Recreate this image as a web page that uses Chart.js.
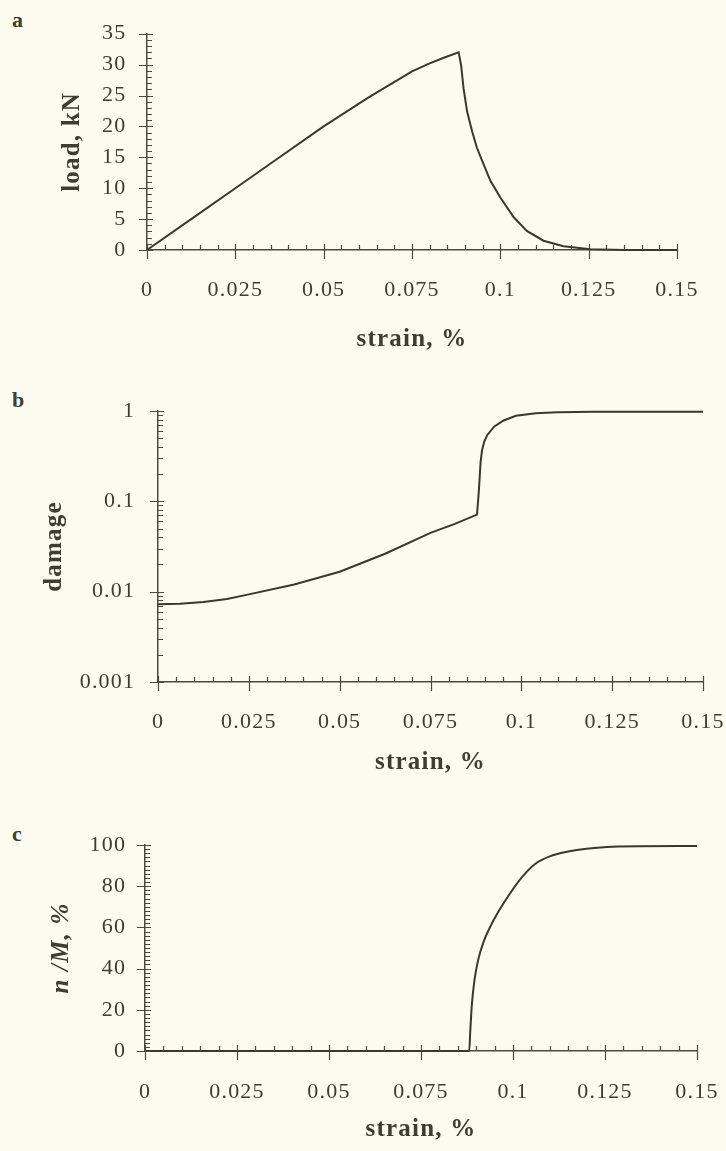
<!DOCTYPE html>
<html lang="en">
<head>
<meta charset="UTF-8">
<title>Load, damage and n/M versus strain</title>
<script src="https://cdn.jsdelivr.net/npm/chart.js"></script>
<style>
    html, body { margin: 0; padding: 0; }
    body {
        width: 726px;
        height: 1151px;
        overflow: hidden;
        position: relative;
        background: #fbfbf0;
        font-family: "Liberation Serif", "DejaVu Serif", serif;
        color: #3d3d32;
    }
    canvas { position: absolute; left: 0; }
    .panel-letter {
        position: absolute;
        left: 12px;
        font-weight: bold;
        font-size: 22px;
        line-height: 1;
    }
</style>
</head>
<body>
<div class="panel-letter" style="top: 9px">a</div>
<div class="panel-letter" style="top: 389px">b</div>
<div class="panel-letter" style="top: 823px">c</div>

<canvas id="chart-a" width="760" height="370" style="top: 0"></canvas>
<canvas id="chart-b" width="760" height="410" style="top: 375px"></canvas>
<canvas id="chart-c" width="760" height="351" style="top: 800px"></canvas>

<script>
    // shared x axis (strain, %)
    const xMajor = [0, 0.025, 0.05, 0.075, 0.1, 0.125, 0.15];
    const xLabels = ['0', '0.025', '0.05', '0.075', '0.1', '0.125', '0.15'];

    // panel a: load, kN
    const strainA = [0, 0.0125, 0.025, 0.0375, 0.05, 0.0625, 0.075, 0.08, 0.084, 0.0882,
                     0.0889, 0.0896, 0.0906, 0.092, 0.0934, 0.0953, 0.0972, 0.1, 0.1038,
                     0.1075, 0.1122, 0.1179, 0.1255, 0.135, 0.15];
    const loadA = [0, 5.0, 10.0, 15.0, 20.0, 24.6, 28.9, 30.2, 31.1, 32.0,
                   29.9, 26.1, 22.4, 19.2, 16.5, 13.8, 11.2, 8.5, 5.3,
                   3.1, 1.5, 0.6, 0.13, 0, 0];
    const yMajorA = [0, 5, 10, 15, 20, 25, 30, 35];
    const yLabelsA = ['0', '5', '10', '15', '20', '25', '30', '35'];

    // panel b: damage (log axis)
    const strainB = [0, 0.006, 0.0125, 0.019, 0.025, 0.0375, 0.05, 0.0625, 0.075, 0.0817, 0.0878,
                     0.0883, 0.0888, 0.0892, 0.0898, 0.0906, 0.0925, 0.095, 0.0985, 0.104,
                     0.11, 0.12, 0.15];
    const damageB = [0.00724, 0.00733, 0.00767, 0.0083, 0.00933, 0.012, 0.0166, 0.0263, 0.0447, 0.0562, 0.0714,
                     0.129, 0.277, 0.37, 0.46, 0.54, 0.67, 0.78, 0.885, 0.945,
                     0.968, 0.978, 0.98];
    const yMajorB = [0.001, 0.01, 0.1, 1];
    const yLabelsB = ['0.001', '0.01', '0.1', '1'];

    // panel c: n/M, %
    const strainC = [0, 0.0881, 0.0884, 0.0888, 0.0895, 0.0905, 0.092, 0.094, 0.0965, 0.099,
                     0.1025, 0.106, 0.11, 0.115, 0.12, 0.127, 0.15];
    const ratioC = [0, 0, 10, 22, 34, 44, 53, 61, 69, 76,
                    84.5, 90.8, 94.5, 96.8, 98.2, 99.2, 99.5];
    const yMajorC = [0, 20, 40, 60, 80, 100];
    const yLabelsC = ['0', '20', '40', '60', '80', '100'];

    const TEXT = '#3d3d32';
    const AXIS = '#4a4a3e';
    const LINE = '#38382e';
    const FAMILY = '"Liberation Serif", "DejaVu Serif", serif';
    const tickFont = { family: FAMILY, size: 22 };

    // major ticks plus evenly spaced minor ones between them
    function linearTicks(majors, parts) {
        const out = [];
        majors.forEach((m, i) => {
            out.push({ value: m, labelIndex: i });
            if (i < majors.length - 1) {
                for (let k = 1; k < parts; k++) out.push({ value: m + (majors[i + 1] - m) * k / parts });
            }
        });
        return out;
    }

    // decades plus 2..9 minor ticks
    function logTicks(majors) {
        const out = [];
        majors.forEach((m, i) => {
            out.push({ value: m, labelIndex: i });
            if (i < majors.length - 1) {
                for (let k = 2; k < 10; k++) out.push({ value: m * k });
            }
        });
        return out;
    }

    function labelFrom(labels) {
        return (value, index, ticks) => ticks[index].labelIndex !== undefined ? labels[ticks[index].labelIndex] : '';
    }

    // ticks that cross the axis (major) or sit inside it (minor)
    const tickMarks = {
        id: 'tickMarks',
        afterDraw(chart) {
            const { ctx, chartArea, scales: { x, y } } = chart;
            ctx.save();
            ctx.strokeStyle = AXIS;
            ctx.lineWidth = 1.2;
            ctx.beginPath();
            x.ticks.forEach(t => {
                const px = Math.round(x.getPixelForValue(t.value)) + 0.5;
                const major = t.labelIndex !== undefined;
                ctx.moveTo(px, chartArea.bottom - (major ? 6 : 5));
                ctx.lineTo(px, chartArea.bottom + (major ? 9 : 0));
            });
            y.ticks.forEach(t => {
                const py = Math.round(y.getPixelForValue(t.value)) + 0.5;
                const major = t.labelIndex !== undefined;
                ctx.moveTo(chartArea.left - (major ? 8 : 0), py);
                ctx.lineTo(chartArea.left + (major ? 6 : 5), py);
            });
            ctx.stroke();
            ctx.restore();
        }
    };

    // the scanned lettering is set a little wide
    const wideText = {
        id: 'wideText',
        beforeUpdate(chart) { chart.ctx.letterSpacing = '1.2px'; },
        beforeDraw(chart) { chart.ctx.letterSpacing = '1.2px'; }
    };

    function buildPanel(id, p) {
        const points = p.xs.map((v, i) => ({ x: v, y: p.ys[i] }));
        const canvas = document.getElementById(id);
        return new Chart(canvas, {
            type: 'line',
            data: {
                datasets: [{
                    data: points,
                    borderColor: LINE,
                    borderWidth: 2,
                    pointRadius: 0,
                    tension: 0,
                    cubicInterpolationMode: p.smooth ? 'monotone' : 'default',
                    clip: 6
                }]
            },
            options: {
                responsive: false,
                animation: false,
                events: [],
                layout: { padding: { left: 0, top: p.top, right: canvas.width - p.right, bottom: 0 } },
                plugins: { legend: { display: false }, tooltip: { enabled: false } },
                scales: {
                    x: {
                        type: 'linear',
                        min: 0,
                        max: 0.15,
                        afterBuildTicks: s => { s.ticks = linearTicks(xMajor, 5); },
                        afterFit: s => { s.height = p.xHeight; },
                        grid: { display: false, drawTicks: false },
                        border: { display: true, color: AXIS, width: 1.5 },
                        ticks: {
                            autoSkip: false, maxRotation: 0, padding: p.xTickPad,
                            color: TEXT, font: tickFont, callback: labelFrom(xLabels)
                        },
                        title: {
                            display: true, text: 'strain, %', color: TEXT,
                            font: { family: FAMILY, size: 25, weight: 'bold' },
                            padding: { top: 0, bottom: p.xTitlePad }
                        }
                    },
                    y: {
                        type: p.log ? 'logarithmic' : 'linear',
                        min: p.yMajor[0],
                        max: p.yMajor[p.yMajor.length - 1],
                        afterBuildTicks: s => { s.ticks = p.log ? logTicks(p.yMajor) : linearTicks(p.yMajor, p.yParts); },
                        afterFit: s => { s.width = p.left; },
                        grid: { display: false, drawTicks: false },
                        border: { display: true, color: AXIS, width: 1.5 },
                        ticks: {
                            autoSkip: false, padding: p.yTickPad,
                            color: TEXT, font: tickFont, callback: labelFrom(p.yLabels)
                        },
                        title: {
                            display: true, text: p.yTitle, color: TEXT,
                            font: { family: FAMILY, size: 25, weight: 'bold', style: p.yTitleStyle || 'normal' },
                            padding: { top: p.yTitlePad, bottom: 0 }
                        }
                    }
                }
            },
            plugins: [wideText, tickMarks]
        });
    }

    buildPanel('chart-a', {
        xs: strainA, ys: loadA, yMajor: yMajorA, yLabels: yLabelsA, yParts: 5,
        yTitle: 'load, kN', left: 147, right: 677, top: 32, xHeight: 120,
        xTickPad: 26.8, xTitlePad: 15, yTitlePad: 58, yTickPad: 20.5
    });

    buildPanel('chart-b', {
        xs: strainB, ys: damageB, yMajor: yMajorB, yLabels: yLabelsB, log: true,
        yTitle: 'damage', left: 158, right: 703, top: 33, xHeight: 103,
        xTickPad: 26.8, xTitlePad: 7, yTitlePad: 40, yTickPad: 22.8
    });

    buildPanel('chart-c', {
        xs: strainC, ys: ratioC, yMajor: yMajorC, yLabels: yLabelsC, yParts: 10, smooth: true,
        yTitle: 'n /M, %', yTitleStyle: 'italic', left: 145, right: 697, top: 45, xHeight: 100,
        xTickPad: 27.8, xTitlePad: 6, yTitlePad: 47, yTickPad: 18.8
    });
</script>
</body>
</html>
